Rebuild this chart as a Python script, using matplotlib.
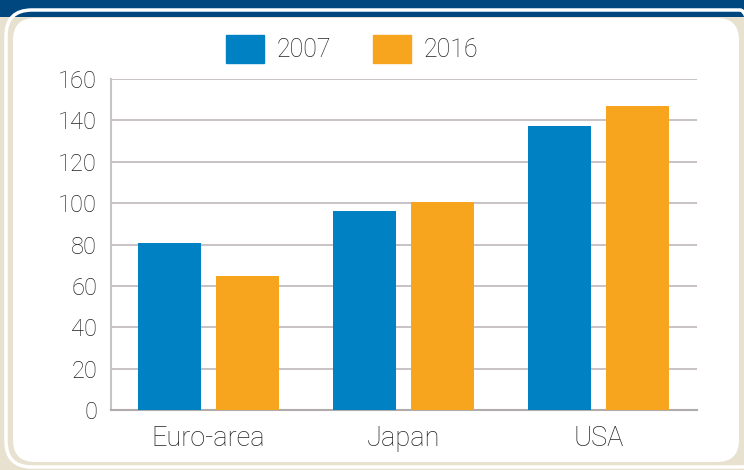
import matplotlib
matplotlib.use("Agg")
import numpy as np
from matplotlib import pyplot as plt
from matplotlib.patches import FancyBboxPatch, Rectangle, Patch
from matplotlib.transforms import IdentityTransform

# data
regions = ["Euro-area", "Japan", "USA"]
values_2007 = [80.5, 96, 137.5]
values_2016 = [65, 100.5, 147]
series_names = ["2007", "2016"]
yticks = [0, 20, 40, 60, 80, 100, 120, 140, 160]

blue = "#0081c4"
orange = "#f7a51f"
navy = "#00467f"
beige = "#e8e1cf"
textcol = "#222222"
gridcol = "#c4bcc0"

plt.rcParams["font.family"] = ["Roboto", "DejaVu Sans"]
plt.rcParams["font.weight"] = "light"

fig = plt.figure(figsize=(7.44, 4.70), dpi=100)
fig.patch.set_facecolor(beige)

# frame decoration, in pixels (origin bottom left)
W, H = 744, 470
fig.patches.append(Rectangle((0, H - 17), W, 17, transform=IdentityTransform(),
                             facecolor=navy, edgecolor="none", zorder=-3))
fig.patches.append(FancyBboxPatch((6, 3), 760, H - 13, boxstyle="round,pad=0,rounding_size=26",
                                  transform=IdentityTransform(), facecolor="none",
                                  edgecolor="white", linewidth=2.5, zorder=-2))
fig.patches.append(FancyBboxPatch((13, 8), 726, H - 26, boxstyle="round,pad=0,rounding_size=22",
                                  transform=IdentityTransform(), facecolor="white",
                                  edgecolor="none", zorder=-1))

ax = fig.add_axes([111 / W, 1 - 410 / H, 586 / W, 331 / H])
ax.set_facecolor("none")

x = np.arange(len(regions))
w = 0.323
ax.bar(x - 0.2, values_2007, w, color=blue, zorder=3)
ax.bar(x + 0.2, values_2016, w, color=orange, zorder=3)

ax.set_xlim(-0.5, 2.505)
ax.set_ylim(0, 160)
ax.set_yticks(yticks)
ax.set_xticks(x)
ax.set_xticklabels(regions)
ax.grid(axis="y", color=gridcol, linewidth=1.3, zorder=0)
ax.tick_params(axis="both", length=0, colors=textcol)
ax.tick_params(axis="y", pad=10, labelsize=17)
ax.tick_params(axis="x", pad=11, labelsize=19.5)
for s in ["top", "right"]:
    ax.spines[s].set_visible(False)
ax.spines["left"].set_color("#c8c4c4")
ax.spines["left"].set_linewidth(1.5)
ax.spines["bottom"].set_color("#b0acac")
ax.spines["bottom"].set_linewidth(1.5)

handles = [Patch(color=blue), Patch(color=orange)]
fig.legend(handles, series_names, loc="center", bbox_to_anchor=(352 / W, 1 - 49 / H),
           ncol=2, frameon=False, fontsize=18, handlelength=1.5, handleheight=1.3,
           handletextpad=0.5, columnspacing=1.7, labelcolor=textcol)

fig.savefig("out.png", dpi=100, facecolor=beige)
